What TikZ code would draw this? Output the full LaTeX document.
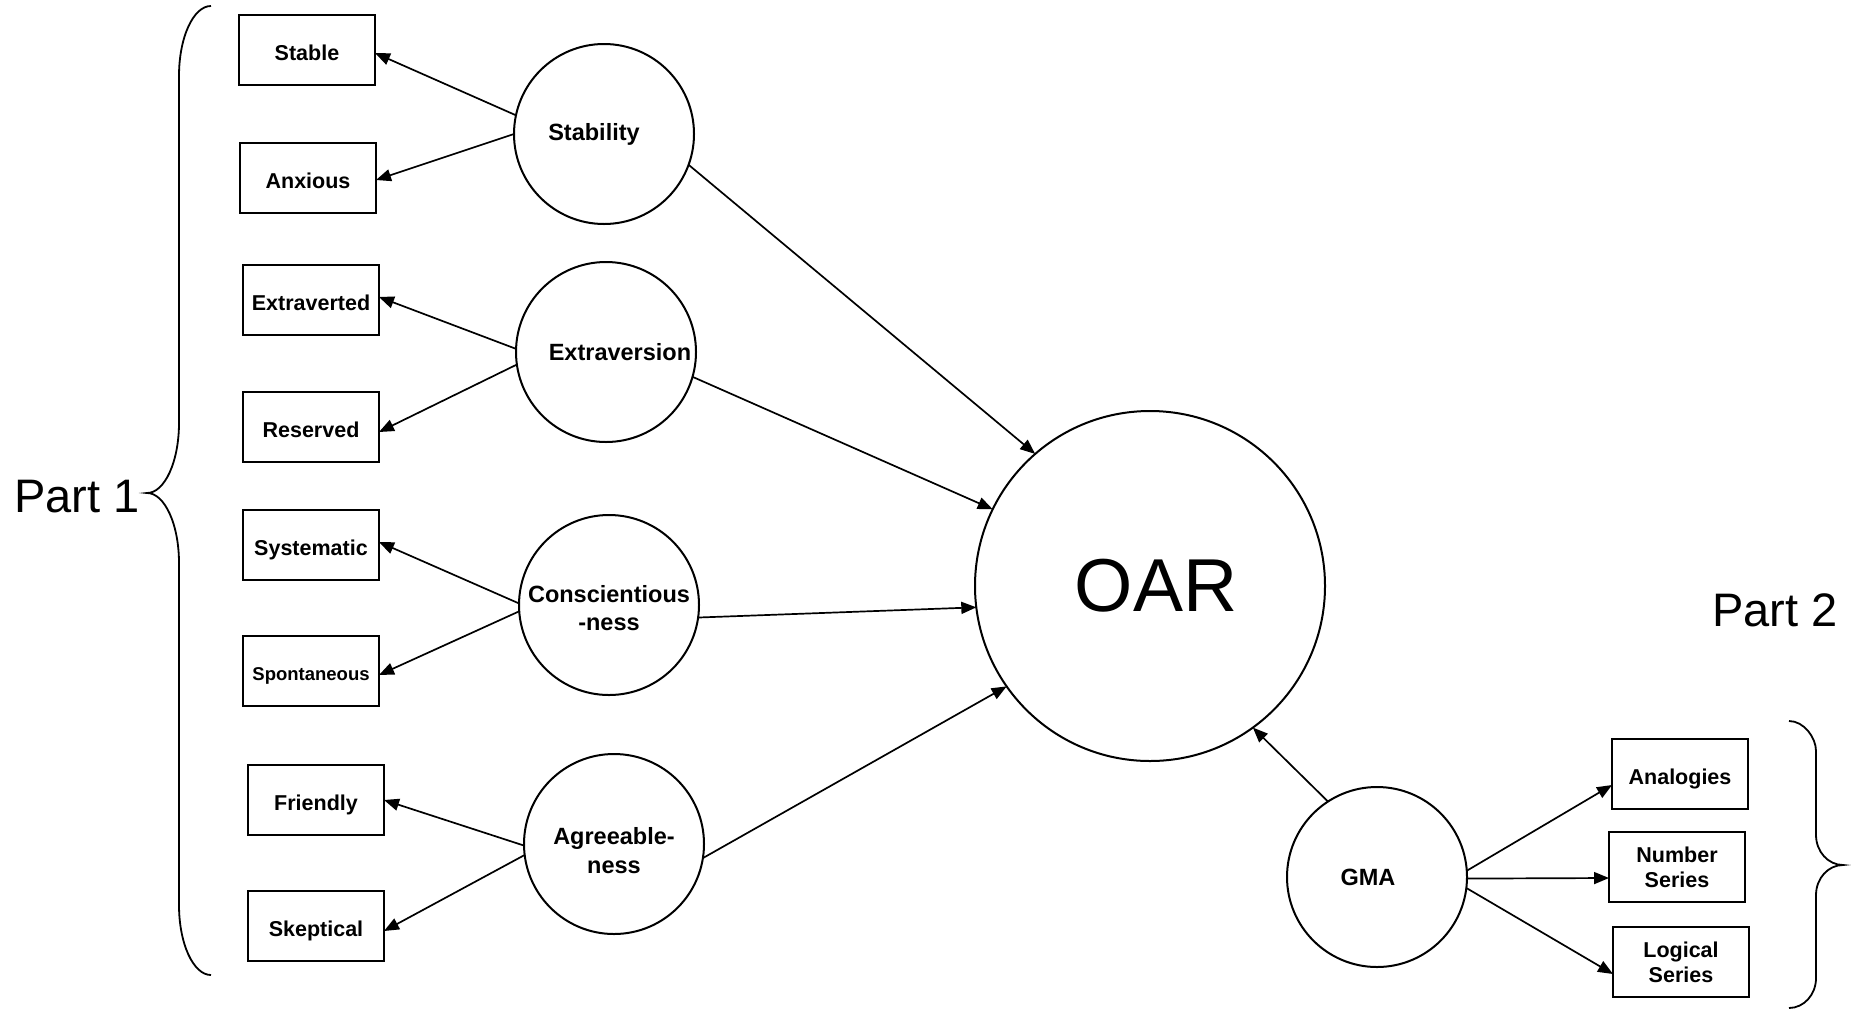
\documentclass[tikz,border=0pt]{standalone}
\usepackage{fontspec}
\setmainfont{Liberation Sans}
\usetikzlibrary{arrows.meta}
\begin{document}
\begin{tikzpicture}[x=1pt,y=-1pt,
  every node/.style={inner sep=0pt, outer sep=0pt},
  obsbox/.style={draw, line width=2pt, minimum width=136pt, minimum height=70pt, align=center, font=\fontsize{21.5}{25}\selectfont\bfseries},
  oneline/.style={text height=20.8pt, text depth=0pt},
  latent/.style={draw, circle, line width=2pt, minimum size=180pt, align=center, font=\fontsize{23.5}{28.5}\selectfont\bfseries},
  conn/.style={line width=1.7pt, -{Triangle[length=15pt,width=12pt]}},
  bracepath/.style={line width=1.8pt},
  parttext/.style={font=\fontsize{47}{52}\selectfont}]
\useasboundingbox (0,0) rectangle (1851,1010);

% observed boxes, part 1
\node[obsbox, oneline] (stable) at (307,50) {Stable};
\node[obsbox, oneline] (anxious) at (308,178) {Anxious};
\node[obsbox, oneline] (extraverted) at (311,300) {Extraverted};
\node[obsbox, oneline] (reserved) at (311,427) {Reserved};
\node[obsbox, oneline] (systematic) at (311,545) {Systematic};
\node[obsbox, font=\fontsize{18.5}{22}\selectfont\bfseries, text height=18pt, text depth=0pt] (spontaneous) at (311,671) {Spontaneous};
\node[obsbox, oneline] (friendly) at (316,800) {Friendly};
\node[obsbox, oneline] (skeptical) at (316,926) {Skeptical};

% latent factors
\node[latent] (stab) at (604,134) {\hspace*{-20pt}Stability};
\node[latent] (extr) at (606,352) {\hspace*{28pt}Extraversion};
\node[latent, text height=51.9pt, text depth=0pt] (cons) at (609,605) {Conscientious\\-ness};
\node[latent, text height=58.6pt, text depth=0pt] (agre) at (614,844) {Agreeable-\\ness};
\node[latent] (gma) at (1377,877) {\hspace*{-18pt}GMA};
\node[draw, circle, line width=2pt, minimum size=350pt, font=\fontsize{75}{80}\selectfont] (oar) at (1150,586) {\hspace*{12pt}OAR};

% observed boxes, part 2
\node[obsbox, oneline] (analogies) at (1680,774) {Analogies};
\node[obsbox] (number) at (1677,867) {Number\\Series};
\node[obsbox] (logical) at (1681,962) {Logical\\Series};

% part labels
\node[parttext] (part1) at (77,497) {Part 1};
\node[parttext] (part2) at (1775,610) {Part 2};

% loadings part 1
\draw[conn] (stab.168) -- ([yshift=-3pt]stable.east);
\draw[conn] (stab.180) -- ([yshift=-2pt]anxious.east);
\draw[conn] (extr.178) -- ([yshift=3pt]extraverted.east);
\draw[conn] (extr.188) -- ([yshift=-5pt]reserved.east);
\draw[conn] (cons.179) -- ([yshift=3pt]systematic.east);
\draw[conn] (cons.184) -- ([yshift=-4pt]spontaneous.east);
\draw[conn] (agre.181) -- (friendly.east);
\draw[conn] (agre.187) -- ([yshift=-5pt]skeptical.east);

% paths to OAR
\draw[conn] (stab.-20) -- (oar.131);
\draw[conn] (extr.-16) -- (oar.154);
\draw[conn] (cons.-8) -- (oar.187);
\draw[conn] (agre.-9) -- (oar.215);
\draw[conn] (gma.123) -- (oar.306);

% GMA loadings
\draw[conn] (gma.4) -- ([yshift=-11pt]analogies.west);
\draw[conn] (gma.-1) -- ([yshift=-11pt]number.west);
\draw[conn] (gma.-7) -- ([yshift=-12pt]logical.west);

% brace part 1
\draw[bracepath] (211,6) .. controls (193.3,6) and (179,37.4) .. (179,76)
  -- (179,423) .. controls (179,461.6) and (164.7,493) .. (147,493)
  .. controls (164.7,493) and (179,524.4) .. (179,563)
  -- (179,905) .. controls (179,943.6) and (193.3,975) .. (211,975);

% brace part 2
\draw[bracepath] (1789,721) .. controls (1803.9,721) and (1816,737.6) .. (1816,751)
  -- (1816,835) .. controls (1816,851.6) and (1828.1,865) .. (1843,865)
  .. controls (1828.1,865) and (1816,878.4) .. (1816,895)
  -- (1816,978) .. controls (1816,994.6) and (1803.9,1008) .. (1789,1008);
\end{tikzpicture}
\end{document}
